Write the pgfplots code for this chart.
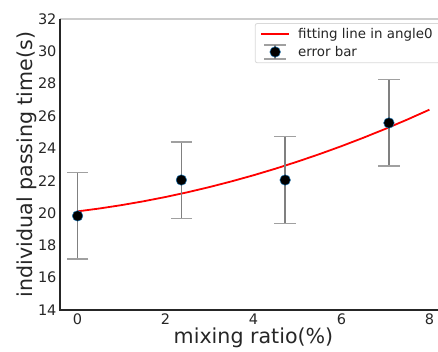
\documentclass[border=0pt]{standalone}
\usepackage{fontspec}
\setmainfont{DejaVu Sans}
\usepackage{pgfplots}
\pgfplotsset{compat=1.18}
\definecolor{spine}{HTML}{262626}
\definecolor{mkedge}{HTML}{1F77B4}
\definecolor{ebar}{HTML}{808080}
\begin{document}
\begin{tikzpicture}
\begin{axis}[
  scale only axis, width=387pt, height=291pt,
  xmin=-0.4, xmax=8.4, ymin=14, ymax=32,
  xtick={0,2,4,6,8}, ytick={14,16,...,32},
  major tick length=0pt,
  axis line style={draw=none},
  clip=false,
  /pgf/number format/assume math mode=true,
  tick label style={font=\fontsize{14.5}{17}\selectfont, text=spine},
  xlabel={mixing ratio(\%)}, ylabel={individual passing time(s)},
  label style={font=\fontsize{20.6}{24}\selectfont, text=spine},
  xlabel style={at={([yshift=-34pt]axis description cs:0.5,0)}, anchor=base},
  ylabel style={at={([xshift=-27pt]axis description cs:0,0.5)}, anchor=base},
  legend cell align=left,
  legend style={at={(0.982,0.986)}, anchor=north east, draw=black!15, rounded corners=2pt,
    line width=0.8pt, font=\fontsize{13.4}{16}\selectfont, text=spine,
    inner xsep=5pt, inner ysep=3pt, row sep=3pt, column sep=6pt,
    nodes={inner ysep=1.5pt}},
]
\addplot[red, line width=1.8pt, no markers,
  legend image code/.code={\draw[red, line width=1.8pt] (0pt,0pt) -- (28pt,0pt);}]
  coordinates {
  (0,20.100) (0.5,20.280) (1,20.488) (1.5,20.725) (2,20.990) (2.5,21.283)
  (3,21.605) (3.5,21.956) (4,22.334) (4.5,22.742) (5,23.178) (5.5,23.642)
  (6,24.134) (6.5,24.656) (7,25.205) (7.5,25.783) (8,26.390)};
\addlegendentry{fitting line in angle0}
\addplot[forget plot, only marks, mark=none,
  error bars/.cd, y dir=both, y explicit,
  error bar style={color=ebar, line width=1.7pt},
  error mark options={rotate=90, mark size=10.8pt, color=ebar!75, line width=1.6pt}]
  coordinates {(0,19.82) +- (0,2.68) (2.36,22.04) +- (0,2.37) (4.72,22.04) +- (0,2.69) (7.08,25.57) +- (0,2.68)};
\addplot[only marks, mark=*, mark size=5.3pt, mark options={fill=black, draw=mkedge, line width=0.5pt},
  legend image code/.code={
    \draw[ebar!75, line width=1.4pt] (3pt,-7pt) -- (25pt,-7pt) (3pt,7pt) -- (25pt,7pt);
    \draw[ebar, line width=1.6pt] (14pt,-7pt) -- (14pt,7pt);
    \filldraw[fill=black, draw=mkedge, line width=0.5pt] (14pt,0pt) circle (5.3pt);}]
  coordinates {(0,19.82) (2.36,22.04) (4.72,22.04) (7.08,25.57)};
\addlegendentry{error bar}
\draw[black!20, line width=1.6pt] (rel axis cs:0,1) -- (rel axis cs:1,1) -- (rel axis cs:1,0);
\draw[spine, line width=1.2pt] (rel axis cs:0,1) -- (rel axis cs:0,0) -- (rel axis cs:1,0);
\coordinate (LL) at (rel axis cs:0,0);
\end{axis}
\pgfresetboundingbox
\path[use as bounding box] ([xshift=-60pt,yshift=-42pt]LL) rectangle ([xshift=378pt,yshift=310pt]LL);
\end{tikzpicture}
\end{document}
